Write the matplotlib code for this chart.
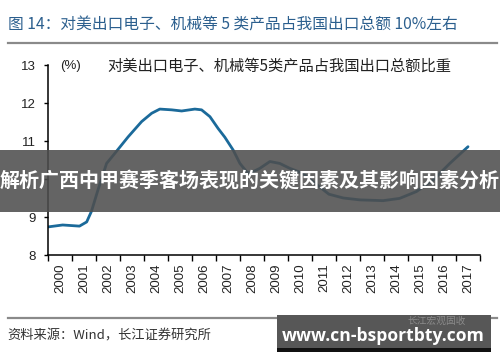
import matplotlib
matplotlib.use("Agg")
import matplotlib.pyplot as plt
from matplotlib.patches import Rectangle
from matplotlib.lines import Line2D

plt.rcParams['font.family'] = ['Liberation Sans', 'Noto Sans CJK SC', 'DejaVu Sans']

# share of 5 product groups exported to the US in China's total exports (%)
years = [2000.0, 2000.6, 2001.3, 2001.6, 2001.8, 2002.07, 2002.43, 2002.78, 2003.33,
         2003.89, 2004.31, 2004.65, 2005.14, 2005.56, 2006.11, 2006.39, 2006.74,
         2007.08, 2007.36, 2007.71, 2007.99, 2008.27, 2008.4, 2008.82, 2009.24,
         2009.65, 2010.07, 2010.61, 2011.2, 2011.7, 2012.3, 2013.0, 2013.5,
         2013.96, 2014.65, 2015.35, 2016.04, 2016.74, 2017.5]
share = [8.74, 8.79, 8.76, 8.87, 9.15, 9.71, 10.41, 10.68, 11.11,
         11.51, 11.73, 11.84, 11.82, 11.79, 11.84, 11.82, 11.64,
         11.33, 11.1, 10.76, 10.41, 10.19, 10.15, 10.28, 10.46,
         10.41, 10.28, 10.15, 9.85, 9.6, 9.5, 9.45, 9.44,
         9.43, 9.49, 9.67, 9.97, 10.41, 10.85]
year_labels = [str(y) for y in range(2000, 2018)]
y_ticks = [8, 9, 10, 11, 12, 13]
# the "10" label sits under the overlay banner and is not visible
y_labels = ["8", "9", "", "11", "12", "13"]

W, H = 500, 362
fig = plt.figure(figsize=(W / 100, H / 100), dpi=100)

def px(x, y):
    return x / W, 1 - y / H

cjk = ['Noto Sans CJK SC', 'DejaVu Sans']

# header
fig.text(*px(8, 25), "图 14：对美出口电子、机械等 5 类产品占我国出口总额 10%左右",
         fontsize=11.3, color="#2b5f8e", va="center", ha="left", family=cjk)
fig.add_artist(Line2D([8 / W, 497 / W], [1 - 43 / H] * 2, color="#8a8a8a", lw=1.6))

# main axes
ax = fig.add_axes([48.3 / W, 1 - 255 / H, (480 - 48.3) / W, (255 - 65) / H])
ax.plot(years, share, color="#1b6a9a", lw=2.0, solid_joinstyle="round",
        solid_capstyle="round")
ax.set_xlim(2000, 2018)
ax.set_ylim(8, 13)
ax.set_yticks(y_ticks)
ax.set_yticklabels(y_labels)
ax.set_xticks(range(2000, 2019))
ax.set_xticklabels([])
ax.set_xticks([y + 0.5 for y in range(2000, 2018)], minor=True)
ax.set_xticklabels(year_labels, minor=True, rotation=90)
ax.tick_params(axis="x", which="major", direction="out", length=4, width=1)
ax.tick_params(axis="x", which="minor", length=0, pad=6, labelsize=9.5,
               labelcolor="#222222")
ax.tick_params(axis="y", direction="out", length=3, width=1, labelsize=9.5,
               labelcolor="#222222", pad=6)
for s in ["top", "right"]:
    ax.spines[s].set_visible(False)
ax.spines["left"].set_linewidth(1.1)
ax.spines["bottom"].set_linewidth(1.1)

fig.text(*px(60, 66), "(%)", fontsize=9.5, color="#222222", va="center", ha="left")
fig.text(*px(107, 66), "对美出口电子、机械等5类产品占我国出口总额比重", fontsize=11,
         color="#222222", va="center", ha="left", family=cjk)

# footer
fig.add_artist(Line2D([8 / W, 497 / W], [1 - 318 / H] * 2, color="#8a8a8a", lw=1.6))
fig.text(*px(7, 336), "资料来源：Wind，长江证券研究所", fontsize=9.5, color="#333333",
         va="center", ha="left", family=cjk)

# overlay banner
fig.add_artist(Rectangle((0, 1 - 212 / H), 1, 62 / H, transform=fig.transFigure,
                         facecolor="#4e4e4e", alpha=0.88, zorder=5))
fig.text(*px(250, 181), "解析广西中甲赛季客场表现的关键因素及其影响因素分析",
         fontsize=14.4, color="white", weight="bold", va="center", ha="center",
         family=cjk, zorder=6)

# site box bottom right
fig.add_artist(Rectangle((277 / W, 1 - 352 / H), 214 / W, 37 / H,
                         transform=fig.transFigure, facecolor="#575757", zorder=5))
fig.add_artist(Rectangle((277 / W, 1 - 352 / H), 214 / W, 4 / H,
                         transform=fig.transFigure, facecolor="#111111", zorder=5))
fig.text(*px(466, 321), "长江宏观固收", fontsize=7, color="#8a8a8a", va="center",
         ha="right", family=cjk, zorder=6)
fig.text(*px(383, 336), "www.cn-bsportbty.com", fontsize=12.6, color="white",
         weight="bold", va="center", ha="center",
         family=['Open Sans', 'DejaVu Sans'], zorder=6)

fig.savefig("out.png", dpi=100)
